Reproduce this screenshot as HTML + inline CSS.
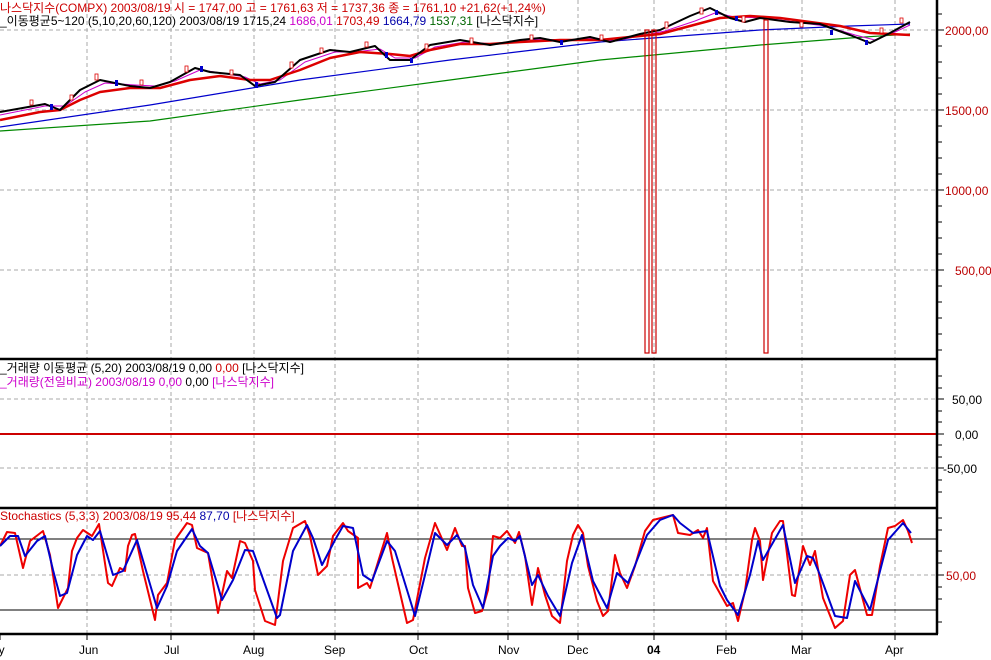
<!DOCTYPE html>
<html><head><meta charset="utf-8"><style>
body{margin:0;background:#fff;}
svg{display:block;font-family:"Liberation Sans","Noto Sans CJK KR","NanumGothic",sans-serif;}
</style></head><body>
<svg width="991" height="660" xmlns="http://www.w3.org/2000/svg">
<rect width="991" height="660" fill="#fff"/>
<g stroke="#aaa" stroke-dasharray="4,3" stroke-width="1">
<line x1="0" y1="30" x2="937" y2="30"/><line x1="0" y1="110" x2="937" y2="110"/>
<line x1="0" y1="190" x2="937" y2="190"/><line x1="0" y1="270" x2="937" y2="270"/>
<line x1="0" y1="399" x2="937" y2="399"/><line x1="0" y1="468" x2="937" y2="468"/>
<line x1="0" y1="575" x2="937" y2="575"/>
<line x1="87" y1="0" x2="87" y2="634"/><line x1="171" y1="0" x2="171" y2="634"/>
<line x1="254" y1="0" x2="254" y2="634"/><line x1="335" y1="0" x2="335" y2="634"/>
<line x1="418" y1="0" x2="418" y2="634"/><line x1="508" y1="0" x2="508" y2="634"/>
<line x1="578" y1="0" x2="578" y2="634"/><line x1="654" y1="0" x2="654" y2="634"/>
<line x1="726" y1="0" x2="726" y2="634"/><line x1="802" y1="0" x2="802" y2="634"/>
<line x1="895" y1="0" x2="895" y2="634"/>
</g>
<g fill="none" stroke-linejoin="round">
<polyline stroke="#080" stroke-width="1.2" points="0,131 150,121 300,100 450,80 600,60 760,45 850,38 910,34"/>
<polyline stroke="#00c" stroke-width="1.2" points="0,127 150,105 300,80 450,60 600,42 760,30 850,26 910,24"/>
<polyline stroke="#c0c" stroke-width="1" points="0,115 45,106 65,106 85,92 105,83 135,85 155,86 175,81 200,70 215,72 245,77 260,84 280,80 305,62 335,52 355,52 380,49 395,58 415,58 435,47 465,42 495,44 525,40 545,39 565,41 595,38 615,41 645,35 665,31 695,21 715,13 735,17 765,18 795,22 825,26 855,35 875,40 895,32 910,25"/>
<polyline stroke="#d00" stroke-width="2.5" points="0,120 40,112 60,110 80,100 100,92 130,88 160,88 190,80 220,76 250,80 270,80 300,70 330,58 360,52 390,54 410,56 430,50 460,44 490,44 520,42 560,40 600,40 640,36 660,34 690,26 720,18 750,16 780,18 810,22 840,26 870,33 890,34 910,35"/>
<polyline stroke="#000" stroke-width="2" points="0,112 45,104 60,110 80,90 100,80 130,86 150,88 170,82 195,68 210,72 240,75 255,86 275,82 300,60 330,50 350,52 375,46 390,60 410,60 430,45 460,40 490,45 520,40 540,38 560,42 590,37 610,42 640,34 660,30 690,16 710,8 730,18 745,22 760,18 790,22 820,24 850,35 870,43 890,33 910,22"/>
</g>
<g fill="#fff" stroke="#d00" stroke-width="0.8">
<rect x="30" y="100" width="3" height="5"/><rect x="70" y="95" width="3" height="5"/><rect x="95" y="74" width="3" height="6"/><rect x="140" y="80" width="3" height="5"/><rect x="185" y="66" width="3" height="6"/><rect x="230" y="70" width="3" height="5"/><rect x="290" y="62" width="3" height="6"/><rect x="320" y="48" width="3" height="5"/><rect x="365" y="42" width="3" height="5"/><rect x="425" y="44" width="3" height="5"/><rect x="470" y="38" width="3" height="6"/><rect x="530" y="35" width="3" height="5"/><rect x="600" y="35" width="3" height="5"/><rect x="665" y="22" width="3" height="6"/><rect x="700" y="8" width="3" height="6"/><rect x="742" y="16" width="3" height="6"/><rect x="800" y="22" width="3" height="5"/><rect x="880" y="28" width="3" height="5"/><rect x="900" y="18" width="3" height="5"/>
</g>
<g fill="#00c">
<rect x="50" y="104" width="3" height="6"/><rect x="115" y="80" width="3" height="6"/><rect x="200" y="66" width="3" height="6"/><rect x="255" y="82" width="3" height="6"/><rect x="385" y="52" width="3" height="6"/><rect x="410" y="58" width="3" height="5"/><rect x="560" y="40" width="3" height="5"/><rect x="715" y="10" width="3" height="5"/><rect x="735" y="16" width="3" height="5"/><rect x="830" y="30" width="3" height="5"/><rect x="865" y="40" width="3" height="5"/>
</g>
<g fill="none" stroke="#c00" stroke-width="1.2">
<rect x="645" y="30" width="4" height="323"/><rect x="652" y="30" width="4" height="323"/><rect x="764" y="20" width="4" height="333"/>
</g>
<line x1="0" y1="434" x2="937" y2="434" stroke="#c00" stroke-width="2"/>
<line x1="0" y1="539" x2="937" y2="539" stroke="#000"/>
<line x1="0" y1="610" x2="937" y2="610" stroke="#000"/>
<g fill="none" stroke-width="2" stroke-linejoin="round">
<polyline stroke="#e00" points="0,546 7,532 15,533 23,568 30,541 43,531 50,555 58,608 68,588 72,551 77,538 83,530 92,536 99,524 108,583 112,586 120,568 125,571 128,546 132,535 135,534 143,571 155,620 158,595 167,583 175,540 187,523 192,525 197,548 208,553 218,613 227,571 232,578 240,541 245,543 253,561 255,590 265,621 275,625 283,561 293,528 305,521 310,536 318,575 327,566 333,536 343,523 348,531 358,538 358,588 367,583 370,588 387,533 392,558 407,623 413,620 425,558 435,523 447,550 455,528 462,546 465,546 468,588 475,613 482,611 488,590 493,536 500,538 507,531 515,543 519,532 525,556 532,605 538,568 545,595 552,616 560,623 567,561 573,535 578,525 583,533 588,566 597,601 603,616 608,611 615,555 620,573 627,588 635,566 645,531 653,520 673,515 678,533 690,535 698,530 703,538 707,528 713,581 727,606 733,603 738,621 745,591 752,540 755,528 760,541 763,580 772,533 780,521 783,521 792,595 795,596 803,546 810,565 815,551 823,598 835,628 843,621 850,575 855,570 867,615 872,615 880,566 888,528 895,526 903,520 908,531 912,543"/>
<polyline stroke="#00c" points="0,546 10,536 18,536 25,556 37,541 45,536 53,570 60,596 67,593 77,555 87,536 93,540 100,531 113,575 123,571 137,540 157,608 167,586 177,551 192,529 200,546 208,553 222,600 233,580 245,550 253,551 277,618 280,615 293,551 307,525 313,538 322,565 335,540 343,526 353,528 363,575 372,581 387,541 395,551 415,616 425,575 435,533 447,545 457,535 465,548 473,585 483,608 493,556 500,546 508,538 515,541 520,536 532,585 538,575 548,596 560,616 572,563 582,535 593,581 607,608 617,573 628,583 647,535 660,520 673,515 680,523 693,533 707,531 720,586 727,600 738,615 750,575 758,541 763,560 783,525 795,583 807,556 813,558 820,575 835,616 847,618 855,581 870,610 888,540 903,523 911,533"/>
</g>
<g stroke="#000" stroke-width="2.5">
<line x1="0" y1="359" x2="938" y2="359"/><line x1="0" y1="508" x2="938" y2="508"/>
<line x1="0" y1="634" x2="938" y2="634"/><line x1="937" y1="0" x2="937" y2="634"/>
</g>
<g stroke="#000">
<path d="M937,14h5M937,46h5M937,62h5M937,78h5M937,94h5M937,126h5M937,142h5M937,158h5M937,174h5M937,206h5M937,222h5M937,238h5M937,254h5M937,286h5M937,302h5M937,318h5M937,334h5M937,350h5"/>
<path d="M937,30h7M937,110h7M937,190h7M937,270h7"/>
<path d="M937,376h5M937,388h5M937,399h7M937,411h5M937,422h5M937,434h7M937,445h5M937,457h5M937,468h7M937,480h5M937,492h5"/>
<path d="M937,518h5M937,530h5M937,551h5M937,563h5M937,575h7M937,587h5M937,599h5M937,622h5"/>
<path d="M0,634v6M87,634v6M171,634v6M254,634v6M335,634v6M418,634v6M508,634v6M578,634v6M654,634v6M726,634v6M802,634v6M895,634v6"/>
</g>
<g font-size="12" fill="#b00">
<text x="945" y="35">2000,00</text><text x="945" y="115">1500,00</text>
<text x="945" y="195">1000,00</text><text x="955" y="275">500,00</text>
<text x="946" y="580">50,00</text>
</g>
<g font-size="12" fill="#000">
<text x="952" y="404">50,00</text><text x="955" y="439">0,00</text><text x="943" y="473">-50,00</text>
<text x="-8" y="654">ay</text><text x="79" y="654">Jun</text><text x="164" y="654">Jul</text>
<text x="243" y="654">Aug</text><text x="324" y="654">Sep</text><text x="409" y="654">Oct</text>
<text x="498" y="654">Nov</text><text x="567" y="654">Dec</text><text x="647" y="654" font-weight="bold">04</text>
<text x="716" y="654">Feb</text><text x="791" y="654">Mar</text><text x="885" y="654">Apr</text>
</g>
<g font-size="12">
<text x="0" y="12" fill="#c00">나스닥지수(COMPX) 2003/08/19 시 = 1747,00 고 = 1761,63 저 = 1737,36 종 = 1761,10 +21,62(+1,24%)</text>
<text x="0" y="25"><tspan fill="#000">_이동평균5~120 (5,10,20,60,120) 2003/08/19 1715,24 </tspan><tspan fill="#c0c">1686,01 </tspan><tspan fill="#c00">1703,49 </tspan><tspan fill="#00a">1664,79 </tspan><tspan fill="#060">1537,31 </tspan><tspan fill="#000">[나스닥지수]</tspan></text>
<text x="0" y="372" fill="#000">_거래량 이동평균 (5,20) 2003/08/19 0,00 <tspan fill="#c00">0,00</tspan> [나스닥지수]</text>
<text x="0" y="386" fill="#c0c">_거래량(전일비교) 2003/08/19 0,00 <tspan fill="#000">0,00</tspan> [나스닥지수]</text>
<text x="0" y="520" fill="#c00">Stochastics (5,3,3) 2003/08/19 95,44 <tspan fill="#00a">87,70</tspan> [나스닥지수]</text>
</g>
</svg>
</body></html>
